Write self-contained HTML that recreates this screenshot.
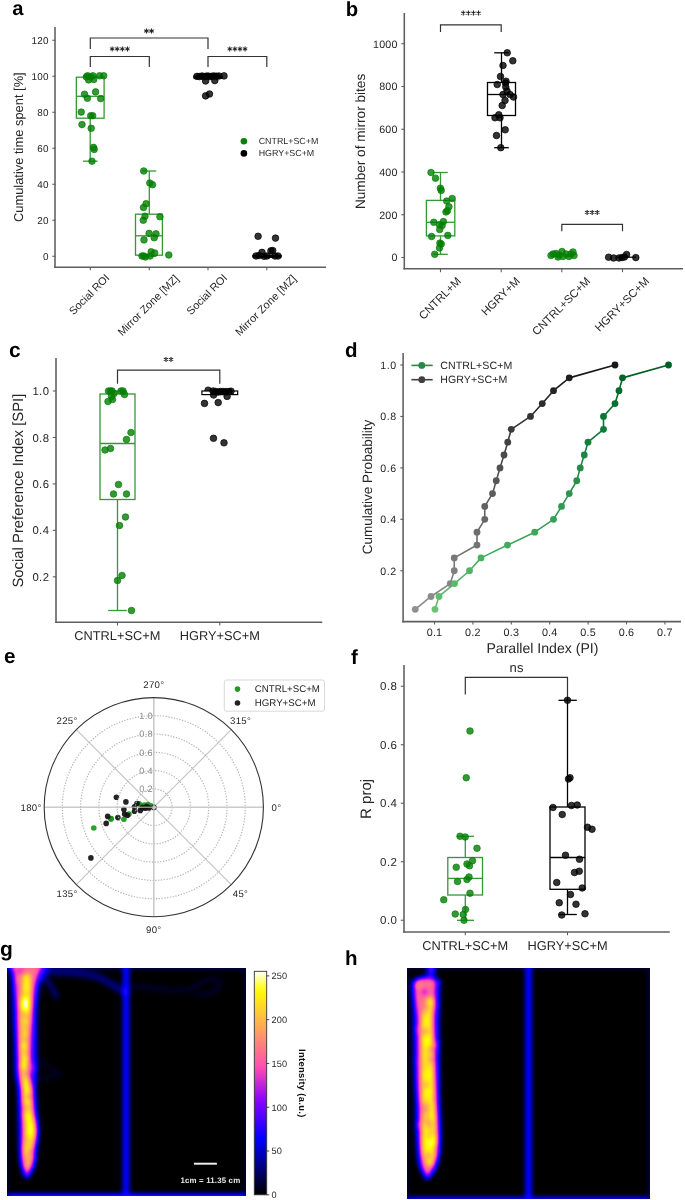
<!DOCTYPE html><html><head><meta charset="utf-8"><style>html,body{margin:0;padding:0;background:#fff;width:685px;height:1200px;overflow:hidden}svg{display:block;font-family:"Liberation Sans",sans-serif;will-change:transform;text-rendering:geometricPrecision}.g{fill:#008000;fill-opacity:.8;stroke:#0a7d0a;stroke-width:.7}.k{fill:#000;fill-opacity:.8;stroke:#000;stroke-width:.7}</style></head><body>
<svg width="685" height="1200" viewBox="0 0 685 1200">
<rect width="685" height="1200" fill="#fff"/>
<text x="12.20" y="14.70" font-size="20.2" text-anchor="start" fill="#000" font-weight="bold">a</text>
<text x="345.70" y="15.60" font-size="20.3" text-anchor="start" fill="#000" font-weight="bold">b</text>
<text x="9.10" y="357.20" font-size="21" text-anchor="start" fill="#000" font-weight="bold">c</text>
<text x="344.90" y="357.00" font-size="20.5" text-anchor="start" fill="#000" font-weight="bold">d</text>
<text x="4.00" y="662.80" font-size="20.7" text-anchor="start" fill="#000" font-weight="bold">e</text>
<text x="351.10" y="663.70" font-size="20.4" text-anchor="start" fill="#000" font-weight="bold">f</text>
<text x="0.00" y="956.10" font-size="21" text-anchor="start" fill="#000" font-weight="bold">g</text>
<text x="345.00" y="965.30" font-size="20.5" text-anchor="start" fill="#000" font-weight="bold">h</text>
<line x1="55.00" y1="27.00" x2="55.00" y2="268.07" stroke="#5e5e5e" stroke-width="1.55"/>
<line x1="54.23" y1="267.30" x2="326.00" y2="267.30" stroke="#5e5e5e" stroke-width="1.55"/>
<line x1="52.30" y1="256.25" x2="55.50" y2="256.25" stroke="#5e5e5e" stroke-width="1.1"/>
<text x="48.80" y="259.81" font-size="9.9" text-anchor="end" fill="#262626" letter-spacing="0.27">0</text>
<line x1="52.30" y1="220.25" x2="55.50" y2="220.25" stroke="#5e5e5e" stroke-width="1.1"/>
<text x="48.80" y="223.81" font-size="9.9" text-anchor="end" fill="#262626" letter-spacing="0.27">20</text>
<line x1="52.30" y1="184.25" x2="55.50" y2="184.25" stroke="#5e5e5e" stroke-width="1.1"/>
<text x="48.80" y="187.81" font-size="9.9" text-anchor="end" fill="#262626" letter-spacing="0.27">40</text>
<line x1="52.30" y1="148.25" x2="55.50" y2="148.25" stroke="#5e5e5e" stroke-width="1.1"/>
<text x="48.80" y="151.81" font-size="9.9" text-anchor="end" fill="#262626" letter-spacing="0.27">60</text>
<line x1="52.30" y1="112.25" x2="55.50" y2="112.25" stroke="#5e5e5e" stroke-width="1.1"/>
<text x="48.80" y="115.81" font-size="9.9" text-anchor="end" fill="#262626" letter-spacing="0.27">80</text>
<line x1="52.30" y1="76.25" x2="55.50" y2="76.25" stroke="#5e5e5e" stroke-width="1.1"/>
<text x="48.80" y="79.81" font-size="9.9" text-anchor="end" fill="#262626" letter-spacing="0.27">100</text>
<line x1="52.30" y1="40.25" x2="55.50" y2="40.25" stroke="#5e5e5e" stroke-width="1.1"/>
<text x="48.80" y="43.81" font-size="9.9" text-anchor="end" fill="#262626" letter-spacing="0.27">120</text>
<line x1="90.30" y1="267.00" x2="90.30" y2="270.20" stroke="#5e5e5e" stroke-width="1.1"/>
<line x1="149.30" y1="267.00" x2="149.30" y2="270.20" stroke="#5e5e5e" stroke-width="1.1"/>
<line x1="208.00" y1="267.00" x2="208.00" y2="270.20" stroke="#5e5e5e" stroke-width="1.1"/>
<line x1="266.80" y1="267.00" x2="266.80" y2="270.20" stroke="#5e5e5e" stroke-width="1.1"/>
<text x="23.00" y="147.20" font-size="12.9" text-anchor="middle" fill="#262626" transform="rotate(-90 23.00 147.20)">Cumulative time spent [%]</text>
<text x="0" y="0" font-size="10.9" text-anchor="middle" dominant-baseline="central" fill="#262626" transform="translate(89.70 294.90) rotate(-45)">Social ROI</text>
<text x="0" y="0" font-size="10.9" text-anchor="middle" dominant-baseline="central" fill="#262626" transform="translate(148.70 305.80) rotate(-45)">Mirror Zone [MZ]</text>
<text x="0" y="0" font-size="10.9" text-anchor="middle" dominant-baseline="central" fill="#262626" transform="translate(207.40 294.90) rotate(-45)">Social ROI</text>
<text x="0" y="0" font-size="10.9" text-anchor="middle" dominant-baseline="central" fill="#262626" transform="translate(266.20 305.80) rotate(-45)">Mirror Zone [MZ]</text>
<polyline points="90.30,49.00 90.30,38.00 208.00,38.00 208.00,49.00" stroke="#333" stroke-width="1.2" fill="none"/>
<path d="M146.45,28.50L146.45,33.50M144.28,29.75L148.62,32.25M148.62,29.75L144.28,32.25" stroke="#222" stroke-width="1.05" fill="none"/>
<path d="M151.55,28.50L151.55,33.50M149.38,29.75L153.72,32.25M153.72,29.75L149.38,32.25" stroke="#222" stroke-width="1.05" fill="none"/>
<polyline points="90.30,67.00 90.30,56.50 149.30,56.50 149.30,67.00" stroke="#333" stroke-width="1.2" fill="none"/>
<path d="M112.15,46.40L112.15,51.40M109.98,47.65L114.32,50.15M114.32,47.65L109.98,50.15" stroke="#222" stroke-width="1.05" fill="none"/>
<path d="M117.25,46.40L117.25,51.40M115.08,47.65L119.42,50.15M119.42,47.65L115.08,50.15" stroke="#222" stroke-width="1.05" fill="none"/>
<path d="M122.35,46.40L122.35,51.40M120.18,47.65L124.52,50.15M124.52,47.65L120.18,50.15" stroke="#222" stroke-width="1.05" fill="none"/>
<path d="M127.45,46.40L127.45,51.40M125.28,47.65L129.62,50.15M129.62,47.65L125.28,50.15" stroke="#222" stroke-width="1.05" fill="none"/>
<polyline points="208.00,67.00 208.00,56.50 266.80,56.50 266.80,67.00" stroke="#333" stroke-width="1.2" fill="none"/>
<path d="M229.75,46.40L229.75,51.40M227.58,47.65L231.92,50.15M231.92,47.65L227.58,50.15" stroke="#222" stroke-width="1.05" fill="none"/>
<path d="M234.85,46.40L234.85,51.40M232.68,47.65L237.02,50.15M237.02,47.65L232.68,50.15" stroke="#222" stroke-width="1.05" fill="none"/>
<path d="M239.95,46.40L239.95,51.40M237.78,47.65L242.12,50.15M242.12,47.65L237.78,50.15" stroke="#222" stroke-width="1.05" fill="none"/>
<path d="M245.05,46.40L245.05,51.40M242.88,47.65L247.22,50.15M247.22,47.65L242.88,50.15" stroke="#222" stroke-width="1.05" fill="none"/>
<line x1="90.20" y1="76.25" x2="90.20" y2="77.20" stroke="#339933" stroke-width="1.3"/>
<line x1="90.20" y1="118.20" x2="90.20" y2="161.20" stroke="#339933" stroke-width="1.3"/>
<line x1="83.00" y1="76.25" x2="97.60" y2="76.25" stroke="#339933" stroke-width="1.3"/>
<line x1="83.00" y1="161.20" x2="97.60" y2="161.20" stroke="#339933" stroke-width="1.3"/>
<rect x="76.35" y="77.20" width="27.75" height="41.00" stroke="#339933" stroke-width="1.3" fill="none"/>
<line x1="76.35" y1="96.30" x2="104.10" y2="96.30" stroke="#339933" stroke-width="1.3"/>
<line x1="149.30" y1="171.00" x2="149.30" y2="214.20" stroke="#339933" stroke-width="1.3"/>
<line x1="149.30" y1="255.20" x2="149.30" y2="256.25" stroke="#339933" stroke-width="1.3"/>
<line x1="142.30" y1="171.00" x2="156.30" y2="171.00" stroke="#339933" stroke-width="1.3"/>
<line x1="142.30" y1="256.25" x2="156.30" y2="256.25" stroke="#339933" stroke-width="1.3"/>
<rect x="135.50" y="214.20" width="26.90" height="41.00" stroke="#339933" stroke-width="1.3" fill="none"/>
<line x1="135.50" y1="235.80" x2="162.40" y2="235.80" stroke="#339933" stroke-width="1.3"/>
<circle cx="87.60" cy="75.80" r="3.3" class="g"/>
<circle cx="90.70" cy="76.90" r="3.3" class="g"/>
<circle cx="92.90" cy="75.80" r="3.3" class="g"/>
<circle cx="88.60" cy="79.90" r="3.3" class="g"/>
<circle cx="93.70" cy="79.40" r="3.3" class="g"/>
<circle cx="99.60" cy="75.80" r="3.3" class="g"/>
<circle cx="103.70" cy="75.80" r="3.3" class="g"/>
<circle cx="86.40" cy="76.90" r="3.3" class="g"/>
<circle cx="84.50" cy="94.20" r="3.3" class="g"/>
<circle cx="95.60" cy="91.90" r="3.3" class="g"/>
<circle cx="87.40" cy="98.30" r="3.3" class="g"/>
<circle cx="100.70" cy="98.60" r="3.3" class="g"/>
<circle cx="81.20" cy="112.10" r="3.3" class="g"/>
<circle cx="90.70" cy="115.70" r="3.3" class="g"/>
<circle cx="92.70" cy="115.70" r="3.3" class="g"/>
<circle cx="82.00" cy="124.60" r="3.3" class="g"/>
<circle cx="91.20" cy="128.30" r="3.3" class="g"/>
<circle cx="93.50" cy="147.40" r="3.3" class="g"/>
<circle cx="94.20" cy="149.40" r="3.3" class="g"/>
<circle cx="92.00" cy="161.20" r="3.3" class="g"/>
<circle cx="143.70" cy="171.00" r="3.3" class="g"/>
<circle cx="149.80" cy="183.00" r="3.3" class="g"/>
<circle cx="152.50" cy="184.70" r="3.3" class="g"/>
<circle cx="146.10" cy="203.70" r="3.3" class="g"/>
<circle cx="143.50" cy="207.50" r="3.3" class="g"/>
<circle cx="145.00" cy="216.20" r="3.3" class="g"/>
<circle cx="143.30" cy="220.30" r="3.3" class="g"/>
<circle cx="159.90" cy="216.70" r="3.3" class="g"/>
<circle cx="149.10" cy="233.40" r="3.3" class="g"/>
<circle cx="156.00" cy="233.80" r="3.3" class="g"/>
<circle cx="154.20" cy="237.70" r="3.3" class="g"/>
<circle cx="144.00" cy="239.90" r="3.3" class="g"/>
<circle cx="151.20" cy="251.80" r="3.3" class="g"/>
<circle cx="154.70" cy="253.00" r="3.3" class="g"/>
<circle cx="142.00" cy="256.00" r="3.3" class="g"/>
<circle cx="143.70" cy="256.00" r="3.3" class="g"/>
<circle cx="145.50" cy="257.00" r="3.3" class="g"/>
<circle cx="150.10" cy="256.00" r="3.3" class="g"/>
<circle cx="168.80" cy="255.00" r="3.3" class="g"/>
<line x1="208.00" y1="76.20" x2="208.00" y2="76.20" stroke="#000" stroke-width="1.3"/>
<line x1="208.00" y1="78.00" x2="208.00" y2="78.00" stroke="#000" stroke-width="1.3"/>
<line x1="200.00" y1="76.20" x2="216.00" y2="76.20" stroke="#000" stroke-width="1.3"/>
<line x1="200.00" y1="78.00" x2="216.00" y2="78.00" stroke="#000" stroke-width="1.3"/>
<rect x="194.00" y="76.20" width="28.00" height="1.80" stroke="#000" stroke-width="1.3" fill="none"/>
<line x1="194.00" y1="77.50" x2="222.00" y2="77.50" stroke="#000" stroke-width="1.3"/>
<circle cx="197.00" cy="76.40" r="3.3" class="k"/>
<circle cx="199.50" cy="76.60" r="3.3" class="k"/>
<circle cx="202.00" cy="76.00" r="3.3" class="k"/>
<circle cx="204.00" cy="76.60" r="3.3" class="k"/>
<circle cx="206.00" cy="76.20" r="3.3" class="k"/>
<circle cx="208.00" cy="76.00" r="3.3" class="k"/>
<circle cx="210.00" cy="76.60" r="3.3" class="k"/>
<circle cx="212.00" cy="76.20" r="3.3" class="k"/>
<circle cx="214.00" cy="76.00" r="3.3" class="k"/>
<circle cx="216.50" cy="76.20" r="3.3" class="k"/>
<circle cx="219.00" cy="76.00" r="3.3" class="k"/>
<circle cx="224.00" cy="75.90" r="3.3" class="k"/>
<circle cx="205.60" cy="81.00" r="3.3" class="k"/>
<circle cx="214.80" cy="80.60" r="3.3" class="k"/>
<circle cx="205.60" cy="95.90" r="3.3" class="k"/>
<circle cx="209.50" cy="94.00" r="3.3" class="k"/>
<line x1="266.80" y1="255.50" x2="266.80" y2="255.50" stroke="#000" stroke-width="1.3"/>
<line x1="266.80" y1="257.00" x2="266.80" y2="257.00" stroke="#000" stroke-width="1.3"/>
<line x1="260.00" y1="255.50" x2="274.00" y2="255.50" stroke="#000" stroke-width="1.3"/>
<line x1="260.00" y1="257.00" x2="274.00" y2="257.00" stroke="#000" stroke-width="1.3"/>
<rect x="253.00" y="255.50" width="28.00" height="1.50" stroke="#000" stroke-width="1.3" fill="none"/>
<line x1="253.00" y1="256.20" x2="281.00" y2="256.20" stroke="#000" stroke-width="1.3"/>
<circle cx="256.00" cy="256.00" r="3.3" class="k"/>
<circle cx="259.00" cy="255.50" r="3.3" class="k"/>
<circle cx="262.00" cy="252.40" r="3.3" class="k"/>
<circle cx="264.00" cy="256.30" r="3.3" class="k"/>
<circle cx="267.00" cy="256.00" r="3.3" class="k"/>
<circle cx="270.90" cy="250.90" r="3.3" class="k"/>
<circle cx="272.70" cy="250.50" r="3.3" class="k"/>
<circle cx="275.00" cy="256.00" r="3.3" class="k"/>
<circle cx="278.00" cy="256.00" r="3.3" class="k"/>
<circle cx="258.10" cy="236.30" r="3.3" class="k"/>
<circle cx="275.50" cy="238.10" r="3.3" class="k"/>
<circle cx="243.9" cy="141.2" r="3.3" fill="#0a800a"/>
<circle cx="243.9" cy="153.4" r="3.3" fill="#000"/>
<text x="258.70" y="143.80" font-size="8.9" text-anchor="start" fill="#262626">CNTRL+SC+M</text>
<text x="258.70" y="155.60" font-size="8.9" text-anchor="start" fill="#262626">HGRY+SC+M</text>
<line x1="404.30" y1="13.00" x2="404.30" y2="269.57" stroke="#5e5e5e" stroke-width="1.55"/>
<line x1="403.53" y1="268.80" x2="683.00" y2="268.80" stroke="#5e5e5e" stroke-width="1.55"/>
<line x1="401.30" y1="257.50" x2="404.50" y2="257.50" stroke="#5e5e5e" stroke-width="1.1"/>
<text x="397.80" y="261.35" font-size="10.7" text-anchor="end" fill="#262626" letter-spacing="0.27">0</text>
<line x1="401.30" y1="214.75" x2="404.50" y2="214.75" stroke="#5e5e5e" stroke-width="1.1"/>
<text x="397.80" y="218.60" font-size="10.7" text-anchor="end" fill="#262626" letter-spacing="0.27">200</text>
<line x1="401.30" y1="172.00" x2="404.50" y2="172.00" stroke="#5e5e5e" stroke-width="1.1"/>
<text x="397.80" y="175.85" font-size="10.7" text-anchor="end" fill="#262626" letter-spacing="0.27">400</text>
<line x1="401.30" y1="129.25" x2="404.50" y2="129.25" stroke="#5e5e5e" stroke-width="1.1"/>
<text x="397.80" y="133.10" font-size="10.7" text-anchor="end" fill="#262626" letter-spacing="0.27">600</text>
<line x1="401.30" y1="86.50" x2="404.50" y2="86.50" stroke="#5e5e5e" stroke-width="1.1"/>
<text x="397.80" y="90.35" font-size="10.7" text-anchor="end" fill="#262626" letter-spacing="0.27">800</text>
<line x1="401.30" y1="43.75" x2="404.50" y2="43.75" stroke="#5e5e5e" stroke-width="1.1"/>
<text x="397.80" y="47.60" font-size="10.7" text-anchor="end" fill="#262626" letter-spacing="0.27">1000</text>
<line x1="440.50" y1="269.00" x2="440.50" y2="272.20" stroke="#5e5e5e" stroke-width="1.1"/>
<line x1="501.20" y1="269.00" x2="501.20" y2="272.20" stroke="#5e5e5e" stroke-width="1.1"/>
<line x1="561.80" y1="269.00" x2="561.80" y2="272.20" stroke="#5e5e5e" stroke-width="1.1"/>
<line x1="622.50" y1="269.00" x2="622.50" y2="272.20" stroke="#5e5e5e" stroke-width="1.1"/>
<text x="365.30" y="141.40" font-size="13.6" text-anchor="middle" fill="#262626" transform="rotate(-90 365.30 141.40)">Number of mirror bites</text>
<text x="0" y="0" font-size="11.4" text-anchor="middle" dominant-baseline="central" fill="#262626" transform="translate(440.50 298.90) rotate(-45)">CNTRL+M</text>
<text x="0" y="0" font-size="11.4" text-anchor="middle" dominant-baseline="central" fill="#262626" transform="translate(501.20 296.90) rotate(-45)">HGRY+M</text>
<text x="0" y="0" font-size="11.4" text-anchor="middle" dominant-baseline="central" fill="#262626" transform="translate(561.80 306.85) rotate(-45)">CNTRL+SC+M</text>
<text x="0" y="0" font-size="11.4" text-anchor="middle" dominant-baseline="central" fill="#262626" transform="translate(622.50 304.90) rotate(-45)">HGRY+SC+M</text>
<polyline points="440.50,32.00 440.50,24.90 501.20,24.90 501.20,32.00" stroke="#333" stroke-width="1.2" fill="none"/>
<path d="M463.25,10.60L463.25,15.60M461.08,11.85L465.42,14.35M465.42,11.85L461.08,14.35" stroke="#222" stroke-width="1.05" fill="none"/>
<path d="M468.35,10.60L468.35,15.60M466.18,11.85L470.52,14.35M470.52,11.85L466.18,14.35" stroke="#222" stroke-width="1.05" fill="none"/>
<path d="M473.45,10.60L473.45,15.60M471.28,11.85L475.62,14.35M475.62,11.85L471.28,14.35" stroke="#222" stroke-width="1.05" fill="none"/>
<path d="M478.55,10.60L478.55,15.60M476.38,11.85L480.72,14.35M480.72,11.85L476.38,14.35" stroke="#222" stroke-width="1.05" fill="none"/>
<polyline points="561.80,231.30 561.80,224.30 622.50,224.30 622.50,231.30" stroke="#333" stroke-width="1.2" fill="none"/>
<path d="M587.10,209.90L587.10,214.90M584.93,211.15L589.27,213.65M589.27,211.15L584.93,213.65" stroke="#222" stroke-width="1.05" fill="none"/>
<path d="M592.20,209.90L592.20,214.90M590.03,211.15L594.37,213.65M594.37,211.15L590.03,213.65" stroke="#222" stroke-width="1.05" fill="none"/>
<path d="M597.30,209.90L597.30,214.90M595.13,211.15L599.47,213.65M599.47,211.15L595.13,213.65" stroke="#222" stroke-width="1.05" fill="none"/>
<line x1="440.50" y1="172.50" x2="440.50" y2="200.40" stroke="#339933" stroke-width="1.3"/>
<line x1="440.50" y1="235.90" x2="440.50" y2="254.30" stroke="#339933" stroke-width="1.3"/>
<line x1="433.20" y1="172.50" x2="447.80" y2="172.50" stroke="#339933" stroke-width="1.3"/>
<line x1="433.20" y1="254.30" x2="447.80" y2="254.30" stroke="#339933" stroke-width="1.3"/>
<rect x="426.40" y="200.40" width="28.40" height="35.50" stroke="#339933" stroke-width="1.3" fill="none"/>
<line x1="426.40" y1="222.30" x2="454.80" y2="222.30" stroke="#339933" stroke-width="1.3"/>
<circle cx="431.00" cy="172.50" r="3.3" class="g"/>
<circle cx="435.50" cy="178.20" r="3.3" class="g"/>
<circle cx="440.40" cy="188.20" r="3.3" class="g"/>
<circle cx="441.20" cy="190.40" r="3.3" class="g"/>
<circle cx="446.70" cy="201.10" r="3.3" class="g"/>
<circle cx="452.20" cy="198.50" r="3.3" class="g"/>
<circle cx="448.90" cy="206.80" r="3.3" class="g"/>
<circle cx="446.00" cy="212.00" r="3.3" class="g"/>
<circle cx="447.40" cy="210.70" r="3.3" class="g"/>
<circle cx="433.80" cy="222.30" r="3.3" class="g"/>
<circle cx="443.40" cy="221.60" r="3.3" class="g"/>
<circle cx="439.50" cy="224.70" r="3.3" class="g"/>
<circle cx="442.10" cy="225.60" r="3.3" class="g"/>
<circle cx="439.70" cy="229.50" r="3.3" class="g"/>
<circle cx="431.60" cy="236.50" r="3.3" class="g"/>
<circle cx="447.80" cy="235.40" r="3.3" class="g"/>
<circle cx="439.90" cy="243.10" r="3.3" class="g"/>
<circle cx="441.20" cy="244.00" r="3.3" class="g"/>
<circle cx="439.50" cy="247.90" r="3.3" class="g"/>
<circle cx="434.70" cy="254.30" r="3.3" class="g"/>
<line x1="501.50" y1="52.80" x2="501.50" y2="82.50" stroke="#000" stroke-width="1.3"/>
<line x1="501.50" y1="115.50" x2="501.50" y2="147.70" stroke="#000" stroke-width="1.3"/>
<line x1="494.20" y1="52.80" x2="508.80" y2="52.80" stroke="#000" stroke-width="1.3"/>
<line x1="494.20" y1="147.70" x2="508.80" y2="147.70" stroke="#000" stroke-width="1.3"/>
<rect x="487.50" y="82.50" width="28.00" height="33.00" stroke="#000" stroke-width="1.3" fill="none"/>
<line x1="487.50" y1="94.50" x2="515.50" y2="94.50" stroke="#000" stroke-width="1.3"/>
<circle cx="507.20" cy="52.80" r="3.3" class="k"/>
<circle cx="512.80" cy="60.80" r="3.3" class="k"/>
<circle cx="503.00" cy="65.50" r="3.3" class="k"/>
<circle cx="500.50" cy="76.50" r="3.3" class="k"/>
<circle cx="497.20" cy="84.50" r="3.3" class="k"/>
<circle cx="506.00" cy="81.20" r="3.3" class="k"/>
<circle cx="505.50" cy="83.00" r="3.3" class="k"/>
<circle cx="505.80" cy="87.00" r="3.3" class="k"/>
<circle cx="507.00" cy="91.00" r="3.3" class="k"/>
<circle cx="503.00" cy="94.50" r="3.3" class="k"/>
<circle cx="510.00" cy="94.50" r="3.3" class="k"/>
<circle cx="513.50" cy="97.00" r="3.3" class="k"/>
<circle cx="505.00" cy="100.50" r="3.3" class="k"/>
<circle cx="502.20" cy="105.50" r="3.3" class="k"/>
<circle cx="498.80" cy="114.80" r="3.3" class="k"/>
<circle cx="495.00" cy="117.80" r="3.3" class="k"/>
<circle cx="500.00" cy="117.80" r="3.3" class="k"/>
<circle cx="505.20" cy="129.80" r="3.3" class="k"/>
<circle cx="496.50" cy="135.50" r="3.3" class="k"/>
<circle cx="500.80" cy="147.70" r="3.3" class="k"/>
<circle cx="551.00" cy="255.50" r="3.3" class="g"/>
<circle cx="553.00" cy="254.00" r="3.3" class="g"/>
<circle cx="556.00" cy="253.50" r="3.3" class="g"/>
<circle cx="559.00" cy="255.00" r="3.3" class="g"/>
<circle cx="562.00" cy="251.50" r="3.3" class="g"/>
<circle cx="563.00" cy="256.50" r="3.3" class="g"/>
<circle cx="566.00" cy="254.00" r="3.3" class="g"/>
<circle cx="569.00" cy="256.50" r="3.3" class="g"/>
<circle cx="571.00" cy="254.00" r="3.3" class="g"/>
<circle cx="573.00" cy="252.00" r="3.3" class="g"/>
<circle cx="574.00" cy="255.50" r="3.3" class="g"/>
<circle cx="558.00" cy="257.00" r="3.3" class="g"/>
<line x1="617.00" y1="257.20" x2="636.00" y2="257.20" stroke="#000" stroke-width="1.2"/>
<circle cx="608.60" cy="257.20" r="3.3" class="k"/>
<circle cx="613.60" cy="258.00" r="3.3" class="k"/>
<circle cx="619.00" cy="258.00" r="3.3" class="k"/>
<circle cx="622.00" cy="257.50" r="3.3" class="k"/>
<circle cx="624.50" cy="257.00" r="3.3" class="k"/>
<circle cx="626.60" cy="254.50" r="3.3" class="k"/>
<circle cx="635.80" cy="257.60" r="3.3" class="k"/>
<line x1="56.00" y1="358.00" x2="56.00" y2="623.07" stroke="#5e5e5e" stroke-width="1.55"/>
<line x1="55.23" y1="622.30" x2="322.30" y2="622.30" stroke="#5e5e5e" stroke-width="1.55"/>
<line x1="52.80" y1="576.80" x2="56.00" y2="576.80" stroke="#5e5e5e" stroke-width="1.1"/>
<text x="49.30" y="580.87" font-size="11.3" text-anchor="end" fill="#262626" letter-spacing="0.37">0.2</text>
<line x1="52.80" y1="530.35" x2="56.00" y2="530.35" stroke="#5e5e5e" stroke-width="1.1"/>
<text x="49.30" y="534.42" font-size="11.3" text-anchor="end" fill="#262626" letter-spacing="0.37">0.4</text>
<line x1="52.80" y1="483.90" x2="56.00" y2="483.90" stroke="#5e5e5e" stroke-width="1.1"/>
<text x="49.30" y="487.97" font-size="11.3" text-anchor="end" fill="#262626" letter-spacing="0.37">0.6</text>
<line x1="52.80" y1="437.45" x2="56.00" y2="437.45" stroke="#5e5e5e" stroke-width="1.1"/>
<text x="49.30" y="441.52" font-size="11.3" text-anchor="end" fill="#262626" letter-spacing="0.37">0.8</text>
<line x1="52.80" y1="391.00" x2="56.00" y2="391.00" stroke="#5e5e5e" stroke-width="1.1"/>
<text x="49.30" y="395.07" font-size="11.3" text-anchor="end" fill="#262626" letter-spacing="0.37">1.0</text>
<line x1="117.50" y1="622.30" x2="117.50" y2="625.50" stroke="#5e5e5e" stroke-width="1.1"/>
<line x1="219.80" y1="622.30" x2="219.80" y2="625.50" stroke="#5e5e5e" stroke-width="1.1"/>
<text x="23.00" y="490.60" font-size="14.85" text-anchor="middle" fill="#262626" transform="rotate(-90 23.00 490.60)">Social Preference Index [SPI]</text>
<text x="117.30" y="639.50" font-size="12.8" text-anchor="middle" fill="#262626">CNTRL+SC+M</text>
<text x="219.80" y="639.50" font-size="12.8" text-anchor="middle" fill="#262626">HGRY+SC+M</text>
<polyline points="117.50,383.80 117.50,370.20 219.80,370.20 219.80,383.80" stroke="#333" stroke-width="1.2" fill="none"/>
<path d="M165.95,356.90L165.95,361.90M163.78,358.15L168.12,360.65M168.12,358.15L163.78,360.65" stroke="#222" stroke-width="1.05" fill="none"/>
<path d="M171.05,356.90L171.05,361.90M168.88,358.15L173.22,360.65M173.22,358.15L168.88,360.65" stroke="#222" stroke-width="1.05" fill="none"/>
<line x1="117.50" y1="391.00" x2="117.50" y2="394.00" stroke="#339933" stroke-width="1.3"/>
<line x1="117.50" y1="499.50" x2="117.50" y2="610.50" stroke="#339933" stroke-width="1.3"/>
<line x1="108.20" y1="391.00" x2="126.80" y2="391.00" stroke="#339933" stroke-width="1.3"/>
<line x1="108.20" y1="610.50" x2="126.80" y2="610.50" stroke="#339933" stroke-width="1.3"/>
<rect x="100.00" y="394.00" width="35.00" height="105.50" stroke="#339933" stroke-width="1.3" fill="none"/>
<line x1="100.00" y1="443.50" x2="135.00" y2="443.50" stroke="#339933" stroke-width="1.3"/>
<circle cx="108.50" cy="391.00" r="3.3" class="g"/>
<circle cx="110.50" cy="391.00" r="3.3" class="g"/>
<circle cx="112.00" cy="391.00" r="3.3" class="g"/>
<circle cx="114.00" cy="393.50" r="3.3" class="g"/>
<circle cx="121.00" cy="391.00" r="3.3" class="g"/>
<circle cx="123.00" cy="391.00" r="3.3" class="g"/>
<circle cx="124.50" cy="394.50" r="3.3" class="g"/>
<circle cx="111.50" cy="396.50" r="3.3" class="g"/>
<circle cx="108.00" cy="401.50" r="3.3" class="g"/>
<circle cx="112.50" cy="399.50" r="3.3" class="g"/>
<circle cx="131.00" cy="432.50" r="3.3" class="g"/>
<circle cx="126.50" cy="439.50" r="3.3" class="g"/>
<circle cx="105.00" cy="450.00" r="3.3" class="g"/>
<circle cx="110.50" cy="448.50" r="3.3" class="g"/>
<circle cx="118.50" cy="484.50" r="3.3" class="g"/>
<circle cx="113.50" cy="494.00" r="3.3" class="g"/>
<circle cx="126.50" cy="494.00" r="3.3" class="g"/>
<circle cx="125.50" cy="517.00" r="3.3" class="g"/>
<circle cx="119.50" cy="525.50" r="3.3" class="g"/>
<circle cx="122.00" cy="575.50" r="3.3" class="g"/>
<circle cx="117.50" cy="580.50" r="3.3" class="g"/>
<circle cx="131.50" cy="610.50" r="3.3" class="g"/>
<circle cx="208.10" cy="390.20" r="3.3" class="k"/>
<rect x="201.90" y="391.00" width="35.80" height="3.60" stroke="#000" stroke-width="1.2" fill="#fff"/>
<circle cx="213.00" cy="391.00" r="3.3" class="k"/>
<circle cx="215.50" cy="391.50" r="3.3" class="k"/>
<circle cx="218.00" cy="392.00" r="3.3" class="k"/>
<circle cx="220.50" cy="391.50" r="3.3" class="k"/>
<circle cx="223.00" cy="391.50" r="3.3" class="k"/>
<circle cx="226.00" cy="391.50" r="3.3" class="k"/>
<circle cx="229.00" cy="391.50" r="3.3" class="k"/>
<circle cx="231.00" cy="391.20" r="3.3" class="k"/>
<circle cx="213.60" cy="395.00" r="3.3" class="k"/>
<circle cx="204.50" cy="403.40" r="3.3" class="k"/>
<circle cx="218.20" cy="402.60" r="3.3" class="k"/>
<circle cx="213.50" cy="438.30" r="3.3" class="k"/>
<circle cx="224.00" cy="442.80" r="3.3" class="k"/>
<circle cx="227.10" cy="396.40" r="3.3" class="k"/>
<line x1="403.10" y1="353.00" x2="403.10" y2="622.38" stroke="#5e5e5e" stroke-width="1.55"/>
<line x1="402.33" y1="621.60" x2="681.00" y2="621.60" stroke="#5e5e5e" stroke-width="1.55"/>
<line x1="400.30" y1="570.76" x2="403.50" y2="570.76" stroke="#5e5e5e" stroke-width="1.1"/>
<text x="396.80" y="574.58" font-size="10.6" text-anchor="end" fill="#262626" letter-spacing="0.6">0.2</text>
<line x1="400.30" y1="519.32" x2="403.50" y2="519.32" stroke="#5e5e5e" stroke-width="1.1"/>
<text x="396.80" y="523.14" font-size="10.6" text-anchor="end" fill="#262626" letter-spacing="0.6">0.4</text>
<line x1="400.30" y1="467.88" x2="403.50" y2="467.88" stroke="#5e5e5e" stroke-width="1.1"/>
<text x="396.80" y="471.70" font-size="10.6" text-anchor="end" fill="#262626" letter-spacing="0.6">0.6</text>
<line x1="400.30" y1="416.44" x2="403.50" y2="416.44" stroke="#5e5e5e" stroke-width="1.1"/>
<text x="396.80" y="420.26" font-size="10.6" text-anchor="end" fill="#262626" letter-spacing="0.6">0.8</text>
<line x1="400.30" y1="365.00" x2="403.50" y2="365.00" stroke="#5e5e5e" stroke-width="1.1"/>
<text x="396.80" y="368.82" font-size="10.6" text-anchor="end" fill="#262626" letter-spacing="0.6">1.0</text>
<line x1="434.50" y1="621.30" x2="434.50" y2="624.50" stroke="#5e5e5e" stroke-width="1.1"/>
<text x="434.50" y="636.20" font-size="10.8" text-anchor="middle" fill="#262626" letter-spacing="0.2">0.1</text>
<line x1="472.90" y1="621.30" x2="472.90" y2="624.50" stroke="#5e5e5e" stroke-width="1.1"/>
<text x="472.90" y="636.20" font-size="10.8" text-anchor="middle" fill="#262626" letter-spacing="0.2">0.2</text>
<line x1="511.30" y1="621.30" x2="511.30" y2="624.50" stroke="#5e5e5e" stroke-width="1.1"/>
<text x="511.30" y="636.20" font-size="10.8" text-anchor="middle" fill="#262626" letter-spacing="0.2">0.3</text>
<line x1="549.70" y1="621.30" x2="549.70" y2="624.50" stroke="#5e5e5e" stroke-width="1.1"/>
<text x="549.70" y="636.20" font-size="10.8" text-anchor="middle" fill="#262626" letter-spacing="0.2">0.4</text>
<line x1="588.10" y1="621.30" x2="588.10" y2="624.50" stroke="#5e5e5e" stroke-width="1.1"/>
<text x="588.10" y="636.20" font-size="10.8" text-anchor="middle" fill="#262626" letter-spacing="0.2">0.5</text>
<line x1="626.50" y1="621.30" x2="626.50" y2="624.50" stroke="#5e5e5e" stroke-width="1.1"/>
<text x="626.50" y="636.20" font-size="10.8" text-anchor="middle" fill="#262626" letter-spacing="0.2">0.6</text>
<line x1="664.90" y1="621.30" x2="664.90" y2="624.50" stroke="#5e5e5e" stroke-width="1.1"/>
<text x="664.90" y="636.20" font-size="10.8" text-anchor="middle" fill="#262626" letter-spacing="0.2">0.7</text>
<text x="542.40" y="653.20" font-size="14.1" text-anchor="middle" fill="#262626">Parallel Index (PI)</text>
<text x="371.80" y="487.00" font-size="13.5" text-anchor="middle" fill="#262626" transform="rotate(-90 371.80 487.00)">Cumulative Probability</text>
<line x1="415.25" y1="609.34" x2="431.00" y2="596.48" stroke="#8b8b8b" stroke-width="1.6" stroke-linecap="round"/>
<line x1="431.00" y1="596.48" x2="450.25" y2="583.62" stroke="#858585" stroke-width="1.6" stroke-linecap="round"/>
<line x1="450.25" y1="583.62" x2="454.25" y2="570.76" stroke="#7f7f7f" stroke-width="1.6" stroke-linecap="round"/>
<line x1="454.25" y1="570.76" x2="454.25" y2="557.90" stroke="#797979" stroke-width="1.6" stroke-linecap="round"/>
<line x1="454.25" y1="557.90" x2="477.00" y2="545.04" stroke="#737373" stroke-width="1.6" stroke-linecap="round"/>
<line x1="477.00" y1="545.04" x2="477.00" y2="532.18" stroke="#6d6d6d" stroke-width="1.6" stroke-linecap="round"/>
<line x1="477.00" y1="532.18" x2="484.75" y2="519.32" stroke="#686868" stroke-width="1.6" stroke-linecap="round"/>
<line x1="484.75" y1="519.32" x2="484.75" y2="506.46" stroke="#626262" stroke-width="1.6" stroke-linecap="round"/>
<line x1="484.75" y1="506.46" x2="492.50" y2="493.60" stroke="#5d5d5d" stroke-width="1.6" stroke-linecap="round"/>
<line x1="492.50" y1="493.60" x2="496.25" y2="480.74" stroke="#575757" stroke-width="1.6" stroke-linecap="round"/>
<line x1="496.25" y1="480.74" x2="500.00" y2="467.88" stroke="#515151" stroke-width="1.6" stroke-linecap="round"/>
<line x1="500.00" y1="467.88" x2="504.00" y2="455.02" stroke="#4a4a4a" stroke-width="1.6" stroke-linecap="round"/>
<line x1="504.00" y1="455.02" x2="507.75" y2="442.16" stroke="#424242" stroke-width="1.6" stroke-linecap="round"/>
<line x1="507.75" y1="442.16" x2="511.25" y2="429.30" stroke="#3b3b3b" stroke-width="1.6" stroke-linecap="round"/>
<line x1="511.25" y1="429.30" x2="530.50" y2="416.44" stroke="#333333" stroke-width="1.6" stroke-linecap="round"/>
<line x1="530.50" y1="416.44" x2="542.25" y2="403.58" stroke="#2c2c2c" stroke-width="1.6" stroke-linecap="round"/>
<line x1="542.25" y1="403.58" x2="553.50" y2="390.72" stroke="#242424" stroke-width="1.6" stroke-linecap="round"/>
<line x1="553.50" y1="390.72" x2="569.25" y2="377.86" stroke="#1e1e1e" stroke-width="1.6" stroke-linecap="round"/>
<line x1="569.25" y1="377.86" x2="615.00" y2="365.00" stroke="#181818" stroke-width="1.6" stroke-linecap="round"/>
<circle cx="415.25" cy="609.34" r="3.4" fill="#909090"/>
<circle cx="431.00" cy="596.48" r="3.4" fill="#8b8b8b"/>
<circle cx="450.25" cy="583.62" r="3.4" fill="#858585"/>
<circle cx="454.25" cy="570.76" r="3.4" fill="#7f7f7f"/>
<circle cx="454.25" cy="557.90" r="3.4" fill="#797979"/>
<circle cx="477.00" cy="545.04" r="3.4" fill="#737373"/>
<circle cx="477.00" cy="532.18" r="3.4" fill="#6d6d6d"/>
<circle cx="484.75" cy="519.32" r="3.4" fill="#686868"/>
<circle cx="484.75" cy="506.46" r="3.4" fill="#626262"/>
<circle cx="492.50" cy="493.60" r="3.4" fill="#5d5d5d"/>
<circle cx="496.25" cy="480.74" r="3.4" fill="#575757"/>
<circle cx="500.00" cy="467.88" r="3.4" fill="#515151"/>
<circle cx="504.00" cy="455.02" r="3.4" fill="#4a4a4a"/>
<circle cx="507.75" cy="442.16" r="3.4" fill="#424242"/>
<circle cx="511.25" cy="429.30" r="3.4" fill="#3b3b3b"/>
<circle cx="530.50" cy="416.44" r="3.4" fill="#333333"/>
<circle cx="542.25" cy="403.58" r="3.4" fill="#2c2c2c"/>
<circle cx="553.50" cy="390.72" r="3.4" fill="#242424"/>
<circle cx="569.25" cy="377.86" r="3.4" fill="#1e1e1e"/>
<circle cx="615.00" cy="365.00" r="3.4" fill="#181818"/>
<line x1="435.00" y1="609.34" x2="439.00" y2="596.48" stroke="#63bc6e" stroke-width="1.6" stroke-linecap="round"/>
<line x1="439.00" y1="596.48" x2="454.50" y2="583.62" stroke="#5bb86a" stroke-width="1.6" stroke-linecap="round"/>
<line x1="454.50" y1="583.62" x2="469.50" y2="570.76" stroke="#52b365" stroke-width="1.6" stroke-linecap="round"/>
<line x1="469.50" y1="570.76" x2="481.00" y2="557.90" stroke="#49af61" stroke-width="1.6" stroke-linecap="round"/>
<line x1="481.00" y1="557.90" x2="507.50" y2="545.04" stroke="#41ab5d" stroke-width="1.6" stroke-linecap="round"/>
<line x1="507.50" y1="545.04" x2="534.75" y2="532.18" stroke="#3ca659" stroke-width="1.6" stroke-linecap="round"/>
<line x1="534.75" y1="532.18" x2="553.50" y2="519.32" stroke="#37a055" stroke-width="1.6" stroke-linecap="round"/>
<line x1="553.50" y1="519.32" x2="561.50" y2="506.46" stroke="#329b51" stroke-width="1.6" stroke-linecap="round"/>
<line x1="561.50" y1="506.46" x2="569.25" y2="493.60" stroke="#2d954d" stroke-width="1.6" stroke-linecap="round"/>
<line x1="569.25" y1="493.60" x2="576.75" y2="480.74" stroke="#289049" stroke-width="1.6" stroke-linecap="round"/>
<line x1="576.75" y1="480.74" x2="580.25" y2="467.88" stroke="#238b45" stroke-width="1.6" stroke-linecap="round"/>
<line x1="580.25" y1="467.88" x2="584.25" y2="455.02" stroke="#1d8640" stroke-width="1.6" stroke-linecap="round"/>
<line x1="584.25" y1="455.02" x2="588.00" y2="442.16" stroke="#17813c" stroke-width="1.6" stroke-linecap="round"/>
<line x1="588.00" y1="442.16" x2="603.50" y2="429.30" stroke="#117b38" stroke-width="1.6" stroke-linecap="round"/>
<line x1="603.50" y1="429.30" x2="603.50" y2="416.44" stroke="#0b7634" stroke-width="1.6" stroke-linecap="round"/>
<line x1="603.50" y1="416.44" x2="615.00" y2="403.58" stroke="#057130" stroke-width="1.6" stroke-linecap="round"/>
<line x1="615.00" y1="403.58" x2="619.00" y2="390.72" stroke="#006c2c" stroke-width="1.6" stroke-linecap="round"/>
<line x1="619.00" y1="390.72" x2="622.50" y2="377.86" stroke="#006529" stroke-width="1.6" stroke-linecap="round"/>
<line x1="622.50" y1="377.86" x2="668.50" y2="365.00" stroke="#005e26" stroke-width="1.6" stroke-linecap="round"/>
<circle cx="435.00" cy="609.34" r="3.4" fill="#6cc072"/>
<circle cx="439.00" cy="596.48" r="3.4" fill="#63bc6e"/>
<circle cx="454.50" cy="583.62" r="3.4" fill="#5bb86a"/>
<circle cx="469.50" cy="570.76" r="3.4" fill="#52b365"/>
<circle cx="481.00" cy="557.90" r="3.4" fill="#49af61"/>
<circle cx="507.50" cy="545.04" r="3.4" fill="#41ab5d"/>
<circle cx="534.75" cy="532.18" r="3.4" fill="#3ca659"/>
<circle cx="553.50" cy="519.32" r="3.4" fill="#37a055"/>
<circle cx="561.50" cy="506.46" r="3.4" fill="#329b51"/>
<circle cx="569.25" cy="493.60" r="3.4" fill="#2d954d"/>
<circle cx="576.75" cy="480.74" r="3.4" fill="#289049"/>
<circle cx="580.25" cy="467.88" r="3.4" fill="#238b45"/>
<circle cx="584.25" cy="455.02" r="3.4" fill="#1d8640"/>
<circle cx="588.00" cy="442.16" r="3.4" fill="#17813c"/>
<circle cx="603.50" cy="429.30" r="3.4" fill="#117b38"/>
<circle cx="603.50" cy="416.44" r="3.4" fill="#0b7634"/>
<circle cx="615.00" cy="403.58" r="3.4" fill="#057130"/>
<circle cx="619.00" cy="390.72" r="3.4" fill="#006c2c"/>
<circle cx="622.50" cy="377.86" r="3.4" fill="#006529"/>
<circle cx="668.50" cy="365.00" r="3.4" fill="#005e26"/>
<line x1="411.40" y1="365.40" x2="432.70" y2="365.40" stroke="#238b45" stroke-width="1.6"/>
<circle cx="421.8" cy="365.4" r="3.4" fill="#238b45"/>
<line x1="411.40" y1="379.70" x2="432.70" y2="379.70" stroke="#404040" stroke-width="1.6"/>
<circle cx="421.8" cy="379.7" r="3.4" fill="#404040"/>
<text x="440.20" y="368.90" font-size="10.6" text-anchor="start" fill="#262626" letter-spacing="0.1">CNTRL+SC+M</text>
<text x="440.20" y="382.80" font-size="10.6" text-anchor="start" fill="#262626" letter-spacing="0.1">HGRY+SC+M</text>
<line x1="153.80" y1="807.20" x2="263.40" y2="807.20" stroke="#c4c4c4" stroke-width="1.15"/>
<line x1="153.80" y1="807.20" x2="231.30" y2="884.70" stroke="#c4c4c4" stroke-width="1.15"/>
<line x1="153.80" y1="807.20" x2="153.80" y2="916.80" stroke="#c4c4c4" stroke-width="1.15"/>
<line x1="153.80" y1="807.20" x2="76.30" y2="884.70" stroke="#c4c4c4" stroke-width="1.15"/>
<line x1="153.80" y1="807.20" x2="44.20" y2="807.20" stroke="#c4c4c4" stroke-width="1.15"/>
<line x1="153.80" y1="807.20" x2="76.30" y2="729.70" stroke="#c4c4c4" stroke-width="1.15"/>
<line x1="153.80" y1="807.20" x2="153.80" y2="697.60" stroke="#c4c4c4" stroke-width="1.15"/>
<line x1="153.80" y1="807.20" x2="231.30" y2="729.70" stroke="#c4c4c4" stroke-width="1.15"/>
<g>
<circle cx="111.10" cy="818.60" r="2.8" fill="#179417" fill-opacity=".9"/>
<circle cx="93.80" cy="828.00" r="2.8" fill="#179417" fill-opacity=".9"/>
<circle cx="110.90" cy="818.90" r="2.8" fill="#179417" fill-opacity=".9"/>
<circle cx="123.90" cy="819.20" r="2.8" fill="#179417" fill-opacity=".9"/>
<circle cx="129.00" cy="814.10" r="2.8" fill="#179417" fill-opacity=".9"/>
<circle cx="139.20" cy="803.90" r="2.8" fill="#179417" fill-opacity=".9"/>
<circle cx="144.30" cy="805.00" r="2.8" fill="#179417" fill-opacity=".9"/>
<circle cx="148.00" cy="804.60" r="2.8" fill="#179417" fill-opacity=".9"/>
<circle cx="150.90" cy="805.70" r="2.8" fill="#179417" fill-opacity=".9"/>
<circle cx="141.50" cy="806.50" r="2.8" fill="#179417" fill-opacity=".9"/>
<circle cx="116.40" cy="797.30" r="2.8" fill="#111" fill-opacity=".92"/>
<circle cx="125.90" cy="801.90" r="2.8" fill="#111" fill-opacity=".92"/>
<circle cx="123.90" cy="809.60" r="2.8" fill="#111" fill-opacity=".92"/>
<circle cx="124.60" cy="814.10" r="2.8" fill="#111" fill-opacity=".92"/>
<circle cx="127.50" cy="815.20" r="2.8" fill="#111" fill-opacity=".92"/>
<circle cx="117.90" cy="817.60" r="2.8" fill="#111" fill-opacity=".92"/>
<circle cx="137.00" cy="803.50" r="2.8" fill="#111" fill-opacity=".92"/>
<circle cx="134.50" cy="806.80" r="2.8" fill="#111" fill-opacity=".92"/>
<circle cx="134.50" cy="811.20" r="2.8" fill="#111" fill-opacity=".92"/>
<circle cx="140.30" cy="810.40" r="2.8" fill="#111" fill-opacity=".92"/>
<circle cx="145.00" cy="808.20" r="2.8" fill="#111" fill-opacity=".92"/>
<circle cx="148.70" cy="807.90" r="2.8" fill="#111" fill-opacity=".92"/>
<circle cx="107.70" cy="816.40" r="2.8" fill="#111" fill-opacity=".92"/>
<circle cx="106.20" cy="823.40" r="2.8" fill="#111" fill-opacity=".92"/>
<circle cx="90.90" cy="857.90" r="2.8" fill="#111" fill-opacity=".92"/>
<circle cx="142.50" cy="807.50" r="2.8" fill="#111" fill-opacity=".92"/>
<circle cx="146.50" cy="806.50" r="2.8" fill="#111" fill-opacity=".92"/>
<circle cx="153.8" cy="807.4" r="2.6" fill="none" stroke="#222" stroke-width="1"/>
</g>
<circle cx="153.8" cy="807.2" r="18.30" fill="none" stroke="#b4b4b4" stroke-width="1.15" stroke-dasharray="1.3 1.5"/>
<circle cx="153.8" cy="807.2" r="36.60" fill="none" stroke="#b4b4b4" stroke-width="1.15" stroke-dasharray="1.3 1.5"/>
<circle cx="153.8" cy="807.2" r="54.90" fill="none" stroke="#b4b4b4" stroke-width="1.15" stroke-dasharray="1.3 1.5"/>
<circle cx="153.8" cy="807.2" r="73.20" fill="none" stroke="#b4b4b4" stroke-width="1.15" stroke-dasharray="1.3 1.5"/>
<circle cx="153.8" cy="807.2" r="91.50" fill="none" stroke="#b4b4b4" stroke-width="1.15" stroke-dasharray="1.3 1.5"/>
<line x1="44.20" y1="807.20" x2="263.40" y2="807.20" stroke="#c8c8c8" stroke-width="1.0"/>
<line x1="153.80" y1="697.60" x2="153.80" y2="916.80" stroke="#c8c8c8" stroke-width="1.0"/>
<circle cx="153.8" cy="807.2" r="109.6" fill="none" stroke="#333" stroke-width="1.1"/>
<text x="152.90" y="792.20" font-size="9.2" text-anchor="end" fill="#8a8a8a" letter-spacing="0.3">0.2</text>
<text x="152.90" y="773.90" font-size="9.2" text-anchor="end" fill="#8a8a8a" letter-spacing="0.3">0.4</text>
<text x="152.90" y="755.60" font-size="9.2" text-anchor="end" fill="#8a8a8a" letter-spacing="0.3">0.6</text>
<text x="152.90" y="737.30" font-size="9.2" text-anchor="end" fill="#8a8a8a" letter-spacing="0.3">0.8</text>
<text x="152.90" y="719.00" font-size="9.2" text-anchor="end" fill="#8a8a8a" letter-spacing="0.3">1.0</text>
<text x="276.50" y="810.60" font-size="9.6" text-anchor="middle" fill="#262626" letter-spacing="0.3">0°</text>
<text x="240.56" y="897.36" font-size="9.6" text-anchor="middle" fill="#262626" letter-spacing="0.3">45°</text>
<text x="153.80" y="933.30" font-size="9.6" text-anchor="middle" fill="#262626" letter-spacing="0.3">90°</text>
<text x="67.04" y="897.36" font-size="9.6" text-anchor="middle" fill="#262626" letter-spacing="0.3">135°</text>
<text x="31.10" y="810.60" font-size="9.6" text-anchor="middle" fill="#262626" letter-spacing="0.3">180°</text>
<text x="67.04" y="723.84" font-size="9.6" text-anchor="middle" fill="#262626" letter-spacing="0.3">225°</text>
<text x="153.80" y="687.90" font-size="9.6" text-anchor="middle" fill="#262626" letter-spacing="0.3">270°</text>
<text x="240.56" y="723.84" font-size="9.6" text-anchor="middle" fill="#262626" letter-spacing="0.3">315°</text>
<rect x="224.3" y="680" width="100.2" height="31.2" rx="2" fill="#fff" stroke="#d5d5d5" stroke-width="0.9"/>
<circle cx="237.5" cy="689.1" r="2.8" fill="#249c24"/>
<circle cx="237.5" cy="703" r="2.8" fill="#222"/>
<text x="254.80" y="692.30" font-size="9.7" text-anchor="start" fill="#262626">CNTRL+SC+M</text>
<text x="254.80" y="706.20" font-size="9.7" text-anchor="start" fill="#262626">HGRY+SC+M</text>
<line x1="404.00" y1="665.00" x2="404.00" y2="932.77" stroke="#5e5e5e" stroke-width="1.55"/>
<line x1="403.23" y1="932.00" x2="669.80" y2="932.00" stroke="#5e5e5e" stroke-width="1.55"/>
<line x1="400.80" y1="920.25" x2="404.00" y2="920.25" stroke="#5e5e5e" stroke-width="1.1"/>
<text x="397.30" y="924.39" font-size="11.5" text-anchor="end" fill="#262626" letter-spacing="0.4">0.0</text>
<line x1="400.80" y1="861.75" x2="404.00" y2="861.75" stroke="#5e5e5e" stroke-width="1.1"/>
<text x="397.30" y="865.89" font-size="11.5" text-anchor="end" fill="#262626" letter-spacing="0.4">0.2</text>
<line x1="400.80" y1="803.25" x2="404.00" y2="803.25" stroke="#5e5e5e" stroke-width="1.1"/>
<text x="397.30" y="807.39" font-size="11.5" text-anchor="end" fill="#262626" letter-spacing="0.4">0.4</text>
<line x1="400.80" y1="744.75" x2="404.00" y2="744.75" stroke="#5e5e5e" stroke-width="1.1"/>
<text x="397.30" y="748.89" font-size="11.5" text-anchor="end" fill="#262626" letter-spacing="0.4">0.6</text>
<line x1="400.80" y1="686.25" x2="404.00" y2="686.25" stroke="#5e5e5e" stroke-width="1.1"/>
<text x="397.30" y="690.39" font-size="11.5" text-anchor="end" fill="#262626" letter-spacing="0.4">0.8</text>
<line x1="465.30" y1="932.00" x2="465.30" y2="935.20" stroke="#5e5e5e" stroke-width="1.1"/>
<line x1="567.50" y1="932.00" x2="567.50" y2="935.20" stroke="#5e5e5e" stroke-width="1.1"/>
<text x="370.80" y="798.90" font-size="15.1" text-anchor="middle" fill="#262626" transform="rotate(-90 370.80 798.90)">R proj</text>
<text x="465.20" y="949.50" font-size="12.8" text-anchor="middle" fill="#262626">CNTRL+SC+M</text>
<text x="567.60" y="949.50" font-size="12.8" text-anchor="middle" fill="#262626">HGRY+SC+M</text>
<polyline points="465.30,694.50 465.30,677.40 567.50,677.40 567.50,700.00" stroke="#333" stroke-width="1.2" fill="none"/>
<text x="516.60" y="672.10" font-size="13" text-anchor="middle" fill="#262626" letter-spacing="0.3">ns</text>
<line x1="465.30" y1="836.30" x2="465.30" y2="857.50" stroke="#339933" stroke-width="1.3"/>
<line x1="465.30" y1="895.00" x2="465.30" y2="920.30" stroke="#339933" stroke-width="1.3"/>
<line x1="457.00" y1="836.30" x2="474.00" y2="836.30" stroke="#339933" stroke-width="1.3"/>
<line x1="457.00" y1="920.30" x2="474.00" y2="920.30" stroke="#339933" stroke-width="1.3"/>
<rect x="447.80" y="857.50" width="34.70" height="37.50" stroke="#339933" stroke-width="1.3" fill="none"/>
<line x1="447.80" y1="878.30" x2="482.50" y2="878.30" stroke="#339933" stroke-width="1.3"/>
<circle cx="470.00" cy="731.00" r="3.3" class="g"/>
<circle cx="466.25" cy="777.75" r="3.3" class="g"/>
<circle cx="460.00" cy="836.25" r="3.3" class="g"/>
<circle cx="465.25" cy="837.00" r="3.3" class="g"/>
<circle cx="477.00" cy="848.25" r="3.3" class="g"/>
<circle cx="472.50" cy="860.75" r="3.3" class="g"/>
<circle cx="467.00" cy="864.00" r="3.3" class="g"/>
<circle cx="469.50" cy="865.75" r="3.3" class="g"/>
<circle cx="456.25" cy="867.25" r="3.3" class="g"/>
<circle cx="469.00" cy="877.00" r="3.3" class="g"/>
<circle cx="467.00" cy="879.50" r="3.3" class="g"/>
<circle cx="457.50" cy="881.50" r="3.3" class="g"/>
<circle cx="470.00" cy="893.25" r="3.3" class="g"/>
<circle cx="443.75" cy="899.75" r="3.3" class="g"/>
<circle cx="465.50" cy="909.50" r="3.3" class="g"/>
<circle cx="455.25" cy="914.00" r="3.3" class="g"/>
<circle cx="463.25" cy="914.50" r="3.3" class="g"/>
<circle cx="464.00" cy="920.25" r="3.3" class="g"/>
<line x1="567.50" y1="700.30" x2="567.50" y2="807.00" stroke="#000" stroke-width="1.3"/>
<line x1="567.50" y1="889.30" x2="567.50" y2="914.50" stroke="#000" stroke-width="1.3"/>
<line x1="558.50" y1="700.30" x2="576.80" y2="700.30" stroke="#000" stroke-width="1.3"/>
<line x1="558.50" y1="914.50" x2="576.80" y2="914.50" stroke="#000" stroke-width="1.3"/>
<rect x="550.00" y="807.00" width="35.00" height="82.30" stroke="#000" stroke-width="1.3" fill="none"/>
<line x1="550.00" y1="857.50" x2="585.00" y2="857.50" stroke="#000" stroke-width="1.3"/>
<circle cx="567.50" cy="700.25" r="3.3" class="k"/>
<circle cx="568.50" cy="779.00" r="3.3" class="k"/>
<circle cx="570.00" cy="777.75" r="3.3" class="k"/>
<circle cx="553.00" cy="807.50" r="3.3" class="k"/>
<circle cx="571.50" cy="805.50" r="3.3" class="k"/>
<circle cx="577.25" cy="805.00" r="3.3" class="k"/>
<circle cx="562.25" cy="814.50" r="3.3" class="k"/>
<circle cx="587.50" cy="827.25" r="3.3" class="k"/>
<circle cx="592.00" cy="829.25" r="3.3" class="k"/>
<circle cx="565.50" cy="855.25" r="3.3" class="k"/>
<circle cx="579.50" cy="859.25" r="3.3" class="k"/>
<circle cx="574.50" cy="872.50" r="3.3" class="k"/>
<circle cx="579.25" cy="871.25" r="3.3" class="k"/>
<circle cx="556.75" cy="882.50" r="3.3" class="k"/>
<circle cx="582.25" cy="888.00" r="3.3" class="k"/>
<circle cx="570.50" cy="894.50" r="3.3" class="k"/>
<circle cx="559.25" cy="902.75" r="3.3" class="k"/>
<circle cx="576.00" cy="904.25" r="3.3" class="k"/>
<circle cx="561.75" cy="915.00" r="3.3" class="k"/>
<circle cx="585.00" cy="913.75" r="3.3" class="k"/>
<defs>
<filter id="hg" filterUnits="userSpaceOnUse" x="7" y="968.8" width="239" height="227.2" color-interpolation-filters="sRGB"><feGaussianBlur in="SourceGraphic" stdDeviation="2.4"/><feComponentTransfer><feFuncR type="table" tableValues="0.0000 0.0000 0.0000 0.0000 0.0000 0.0000 0.0000 0.0000 0.0000 0.0000 0.0000 0.0000 0.0000 0.0000 0.0000 0.0000 0.0000 0.0488 0.0977 0.1465 0.1953 0.2441 0.2930 0.3418 0.3906 0.4395 0.4883 0.5371 0.5859 0.6348 0.6836 0.7324 0.7812 0.8301 0.8789 0.9277 0.9766 1.0000 1.0000 1.0000 1.0000 1.0000 1.0000 1.0000 1.0000 1.0000 1.0000 1.0000 1.0000 1.0000 1.0000 1.0000 1.0000 1.0000 1.0000 1.0000 1.0000 1.0000 1.0000 1.0000 1.0000 1.0000 1.0000 1.0000 1.0000"/><feFuncG type="table" tableValues="0.0000 0.0000 0.0000 0.0000 0.0000 0.0000 0.0000 0.0000 0.0000 0.0000 0.0000 0.0000 0.0000 0.0000 0.0000 0.0000 0.0000 0.0000 0.0000 0.0000 0.0000 0.0000 0.0000 0.0000 0.0000 0.0000 0.0000 0.0038 0.0350 0.0663 0.0975 0.1288 0.1600 0.1913 0.2225 0.2538 0.2850 0.3163 0.3475 0.3788 0.4100 0.4413 0.4725 0.5038 0.5350 0.5663 0.5975 0.6288 0.6600 0.6913 0.7225 0.7538 0.7850 0.8163 0.8475 0.8788 0.9100 0.9413 0.9725 1.0000 1.0000 1.0000 1.0000 1.0000 1.0000"/><feFuncB type="table" tableValues="0.0000 0.0625 0.1250 0.1875 0.2500 0.3125 0.3750 0.4375 0.5000 0.5625 0.6250 0.6875 0.7500 0.8125 0.8750 0.9375 1.0000 1.0000 1.0000 1.0000 1.0000 1.0000 1.0000 1.0000 1.0000 1.0000 1.0000 0.9963 0.9650 0.9338 0.9025 0.8713 0.8400 0.8088 0.7775 0.7463 0.7150 0.6838 0.6525 0.6213 0.5900 0.5588 0.5275 0.4963 0.4650 0.4338 0.4025 0.3713 0.3400 0.3088 0.2775 0.2463 0.2150 0.1838 0.1525 0.1213 0.0900 0.0588 0.0275 0.0234 0.2188 0.4141 0.6094 0.8047 1.0000"/><feFuncA type="linear" slope="0" intercept="1"/></feComponentTransfer></filter>
<filter id="hh" filterUnits="userSpaceOnUse" x="407" y="968" width="242.3" height="230.8" color-interpolation-filters="sRGB"><feGaussianBlur in="SourceGraphic" stdDeviation="2.4"/><feComponentTransfer><feFuncR type="table" tableValues="0.0000 0.0000 0.0000 0.0000 0.0000 0.0000 0.0000 0.0000 0.0000 0.0000 0.0000 0.0000 0.0000 0.0000 0.0000 0.0000 0.0000 0.0488 0.0977 0.1465 0.1953 0.2441 0.2930 0.3418 0.3906 0.4395 0.4883 0.5371 0.5859 0.6348 0.6836 0.7324 0.7812 0.8301 0.8789 0.9277 0.9766 1.0000 1.0000 1.0000 1.0000 1.0000 1.0000 1.0000 1.0000 1.0000 1.0000 1.0000 1.0000 1.0000 1.0000 1.0000 1.0000 1.0000 1.0000 1.0000 1.0000 1.0000 1.0000 1.0000 1.0000 1.0000 1.0000 1.0000 1.0000"/><feFuncG type="table" tableValues="0.0000 0.0000 0.0000 0.0000 0.0000 0.0000 0.0000 0.0000 0.0000 0.0000 0.0000 0.0000 0.0000 0.0000 0.0000 0.0000 0.0000 0.0000 0.0000 0.0000 0.0000 0.0000 0.0000 0.0000 0.0000 0.0000 0.0000 0.0038 0.0350 0.0663 0.0975 0.1288 0.1600 0.1913 0.2225 0.2538 0.2850 0.3163 0.3475 0.3788 0.4100 0.4413 0.4725 0.5038 0.5350 0.5663 0.5975 0.6288 0.6600 0.6913 0.7225 0.7538 0.7850 0.8163 0.8475 0.8788 0.9100 0.9413 0.9725 1.0000 1.0000 1.0000 1.0000 1.0000 1.0000"/><feFuncB type="table" tableValues="0.0000 0.0625 0.1250 0.1875 0.2500 0.3125 0.3750 0.4375 0.5000 0.5625 0.6250 0.6875 0.7500 0.8125 0.8750 0.9375 1.0000 1.0000 1.0000 1.0000 1.0000 1.0000 1.0000 1.0000 1.0000 1.0000 1.0000 0.9963 0.9650 0.9338 0.9025 0.8713 0.8400 0.8088 0.7775 0.7463 0.7150 0.6838 0.6525 0.6213 0.5900 0.5588 0.5275 0.4963 0.4650 0.4338 0.4025 0.3713 0.3400 0.3088 0.2775 0.2463 0.2150 0.1838 0.1525 0.1213 0.0900 0.0588 0.0275 0.0234 0.2188 0.4141 0.6094 0.8047 1.0000"/><feFuncA type="linear" slope="0" intercept="1"/></feComponentTransfer></filter>
<linearGradient id="cbar" x1="0" y1="0" x2="0" y2="1"><stop offset="0.0000" stop-color="rgb(255,255,255)"/><stop offset="0.0312" stop-color="rgb(255,255,155)"/><stop offset="0.0625" stop-color="rgb(255,255,56)"/><stop offset="0.0938" stop-color="rgb(255,248,7)"/><stop offset="0.1250" stop-color="rgb(255,232,23)"/><stop offset="0.1562" stop-color="rgb(255,216,39)"/><stop offset="0.1875" stop-color="rgb(255,200,55)"/><stop offset="0.2188" stop-color="rgb(255,184,71)"/><stop offset="0.2500" stop-color="rgb(255,168,87)"/><stop offset="0.2812" stop-color="rgb(255,152,103)"/><stop offset="0.3125" stop-color="rgb(255,136,119)"/><stop offset="0.3438" stop-color="rgb(255,120,135)"/><stop offset="0.3750" stop-color="rgb(255,105,150)"/><stop offset="0.4062" stop-color="rgb(255,89,166)"/><stop offset="0.4375" stop-color="rgb(249,73,182)"/><stop offset="0.4688" stop-color="rgb(224,57,198)"/><stop offset="0.5000" stop-color="rgb(199,41,214)"/><stop offset="0.5312" stop-color="rgb(174,25,230)"/><stop offset="0.5625" stop-color="rgb(149,9,246)"/><stop offset="0.5938" stop-color="rgb(125,0,255)"/><stop offset="0.6250" stop-color="rgb(100,0,255)"/><stop offset="0.6562" stop-color="rgb(75,0,255)"/><stop offset="0.6875" stop-color="rgb(50,0,255)"/><stop offset="0.7188" stop-color="rgb(25,0,255)"/><stop offset="0.7500" stop-color="rgb(0,0,255)"/><stop offset="0.7812" stop-color="rgb(0,0,223)"/><stop offset="0.8125" stop-color="rgb(0,0,191)"/><stop offset="0.8438" stop-color="rgb(0,0,159)"/><stop offset="0.8750" stop-color="rgb(0,0,128)"/><stop offset="0.9062" stop-color="rgb(0,0,96)"/><stop offset="0.9375" stop-color="rgb(0,0,64)"/><stop offset="0.9688" stop-color="rgb(0,0,32)"/><stop offset="1.0000" stop-color="rgb(0,0,0)"/></linearGradient>
</defs>
<g filter="url(#hg)">
<rect x="-20" y="940" width="300" height="290" fill="#000"/>
<rect x="0" y="1194.3" width="260" height="6" fill="rgb(107,107,107)"/>
<rect x="0" y="960" width="260" height="9.5" fill="rgb(20,20,20)"/>
<rect x="0" y="960" width="7.5" height="250" fill="rgb(20,20,20)"/>
<rect x="245.5" y="960" width="10" height="250" fill="rgb(20,20,20)"/>
<path d="M40,972 C60,971 80,973 95,976 C108,981 115,987 124,992" stroke="rgb(32,32,32)" stroke-width="7" fill="none" stroke-linecap="round"/>
<path d="M44,976 C50,984 54,991 56,996" stroke="rgb(28,28,28)" stroke-width="6" fill="none" stroke-linecap="round"/>
<path d="M132,986 C150,987 170,992 188,990 C200,986 208,975 218,980 C224,986 215,995 198,995" stroke="rgb(9,9,9)" stroke-width="6" fill="none" stroke-linecap="round"/>
<path d="M38,1060 L60,1074 L38,1080" stroke="rgb(10,10,10)" stroke-width="4" fill="none" stroke-linecap="round"/>
<path d="M10.00,962.00C3.83,964.17 10.67,971.17 11.00,975.00C11.33,978.83 11.75,980.33 12.00,985.00C12.25,989.67 12.33,997.17 12.50,1003.00C12.67,1008.83 12.75,1013.83 13.00,1020.00C13.25,1026.17 13.75,1033.33 14.00,1040.00C14.25,1046.67 14.33,1054.17 14.50,1060.00C14.67,1065.83 14.50,1070.00 15.00,1075.00C15.50,1080.00 17.00,1084.17 17.50,1090.00C18.00,1095.83 17.83,1103.33 18.00,1110.00C18.17,1116.67 18.33,1123.33 18.50,1130.00C18.67,1136.67 18.75,1144.67 19.00,1150.00C19.25,1155.33 19.50,1158.33 20.00,1162.00C20.50,1165.67 20.83,1169.17 22.00,1172.00C23.17,1174.83 25.33,1179.00 27.00,1179.00C28.67,1179.00 30.50,1174.83 32.00,1172.00C33.50,1169.17 35.17,1165.67 36.00,1162.00C36.83,1158.33 36.50,1155.33 37.00,1150.00C37.50,1144.67 39.00,1136.67 39.00,1130.00C39.00,1123.33 37.50,1116.67 37.00,1110.00C36.50,1103.33 36.00,1095.83 36.00,1090.00C36.00,1084.17 36.83,1080.00 37.00,1075.00C37.17,1070.00 37.00,1065.83 37.00,1060.00C37.00,1054.17 37.00,1046.67 37.00,1040.00C37.00,1033.33 36.92,1026.17 37.00,1020.00C37.08,1013.83 37.00,1008.83 37.50,1003.00C38.00,997.17 38.75,989.67 40.00,985.00C41.25,980.33 43.67,978.83 45.00,975.00C46.33,971.17 53.83,964.17 48.00,962.00C42.17,959.83 16.17,959.83 10.00,962.00Z" fill="rgb(76,76,76)"/>
<path d="M13.50,962.00C9.08,964.17 14.25,971.17 14.50,975.00C14.75,978.83 14.58,980.33 15.00,985.00C15.42,989.67 16.58,997.17 17.00,1003.00C17.42,1008.83 17.33,1013.83 17.50,1020.00C17.67,1026.17 17.83,1033.33 18.00,1040.00C18.17,1046.67 18.33,1054.17 18.50,1060.00C18.67,1065.83 18.50,1070.00 19.00,1075.00C19.50,1080.00 21.00,1084.17 21.50,1090.00C22.00,1095.83 21.92,1103.33 22.00,1110.00C22.08,1116.67 22.00,1123.33 22.00,1130.00C22.00,1136.67 21.92,1144.67 22.00,1150.00C22.08,1155.33 22.00,1158.33 22.50,1162.00C23.00,1165.67 24.25,1169.67 25.00,1172.00C25.75,1174.33 26.25,1176.00 27.00,1176.00C27.75,1176.00 28.50,1174.33 29.50,1172.00C30.50,1169.67 32.25,1165.67 33.00,1162.00C33.75,1158.33 33.42,1155.33 34.00,1150.00C34.58,1144.67 36.50,1136.67 36.50,1130.00C36.50,1123.33 34.58,1116.67 34.00,1110.00C33.42,1103.33 33.67,1095.83 33.00,1090.00C32.33,1084.17 30.42,1080.00 30.00,1075.00C29.58,1070.00 30.33,1065.83 30.50,1060.00C30.67,1054.17 30.75,1046.67 31.00,1040.00C31.25,1033.33 31.67,1026.17 32.00,1020.00C32.33,1013.83 32.50,1008.83 33.00,1003.00C33.50,997.17 34.17,989.67 35.00,985.00C35.83,980.33 37.00,978.83 38.00,975.00C39.00,971.17 45.08,964.17 41.00,962.00C36.92,959.83 17.92,959.83 13.50,962.00Z" fill="rgb(163,163,163)"/>
<path d="M23.20,975.00C21.93,976.67 22.70,980.33 22.20,985.00C21.70,989.67 20.53,997.17 20.20,1003.00C19.87,1008.83 20.20,1013.83 20.20,1020.00C20.20,1026.17 20.12,1033.33 20.20,1040.00C20.28,1046.67 20.53,1054.17 20.70,1060.00C20.87,1065.83 20.95,1070.00 21.20,1075.00C21.45,1080.00 21.87,1084.17 22.20,1090.00C22.53,1095.83 22.70,1103.33 23.20,1110.00C23.70,1116.67 25.20,1123.33 25.20,1130.00C25.20,1136.67 23.45,1144.67 23.20,1150.00C22.95,1155.33 22.98,1159.00 23.70,1162.00C24.42,1165.00 26.23,1168.00 27.50,1168.00C28.77,1168.00 30.42,1165.00 31.30,1162.00C32.18,1159.00 32.05,1155.33 32.80,1150.00C33.55,1144.67 35.97,1136.67 35.80,1130.00C35.63,1123.33 32.63,1116.67 31.80,1110.00C30.97,1103.33 31.47,1095.83 30.80,1090.00C30.13,1084.17 28.30,1080.00 27.80,1075.00C27.30,1070.00 27.80,1065.83 27.80,1060.00C27.80,1054.17 27.47,1046.67 27.80,1040.00C28.13,1033.33 29.30,1026.17 29.80,1020.00C30.30,1013.83 30.63,1008.83 30.80,1003.00C30.97,997.17 30.97,989.67 30.80,985.00C30.63,980.33 31.07,976.67 29.80,975.00C28.53,973.33 24.47,973.33 23.20,975.00Z" fill="rgb(230,230,230)"/>
<ellipse cx="25.5" cy="1012.0" rx="3.0" ry="5.0" fill="rgb(245,245,245)"/>
<ellipse cx="31.0" cy="1130.0" rx="4.0" ry="7.0" fill="rgb(245,245,245)"/>
<ellipse cx="26.5" cy="1093.0" rx="3.0" ry="5.0" fill="rgb(235,235,235)"/>
<ellipse cx="24.0" cy="1045.0" rx="3.0" ry="5.0" fill="rgb(235,235,235)"/>
<ellipse cx="25.0" cy="1027.0" rx="3.0" ry="4.0" fill="rgb(199,199,199)"/>
<ellipse cx="25.0" cy="1070.0" rx="2.5" ry="4.0" fill="rgb(204,204,204)"/>
<ellipse cx="26.0" cy="1108.0" rx="3.0" ry="4.0" fill="rgb(199,199,199)"/>
<ellipse cx="18.0" cy="990.0" rx="3.0" ry="7.0" fill="rgb(148,148,148)"/>
<ellipse cx="33.0" cy="1068.0" rx="2.5" ry="6.0" fill="rgb(117,117,117)"/>
<ellipse cx="27.0" cy="1160.0" rx="3.0" ry="6.0" fill="rgb(189,189,189)"/>
<ellipse cx="20.0" cy="971.0" rx="3.0" ry="3.0" fill="rgb(115,115,115)"/>
<ellipse cx="28.0" cy="989.6" rx="2.1" ry="3.7" fill="rgb(235,235,235)"/>
<ellipse cx="25.3" cy="995.2" rx="2.6" ry="2.6" fill="rgb(189,189,189)"/>
<ellipse cx="25.1" cy="1003.0" rx="2.7" ry="2.6" fill="rgb(242,242,242)"/>
<ellipse cx="23.8" cy="1009.9" rx="2.8" ry="3.9" fill="rgb(178,178,178)"/>
<ellipse cx="25.4" cy="1016.2" rx="2.3" ry="3.3" fill="rgb(178,178,178)"/>
<ellipse cx="23.9" cy="1023.6" rx="2.1" ry="3.0" fill="rgb(204,204,204)"/>
<ellipse cx="22.8" cy="1032.3" rx="2.2" ry="2.6" fill="rgb(204,204,204)"/>
<ellipse cx="24.3" cy="1039.5" rx="2.6" ry="3.3" fill="rgb(189,189,189)"/>
<ellipse cx="23.9" cy="1047.7" rx="2.4" ry="2.9" fill="rgb(235,235,235)"/>
<ellipse cx="25.0" cy="1052.0" rx="2.7" ry="3.3" fill="rgb(204,204,204)"/>
<ellipse cx="25.2" cy="1059.2" rx="3.2" ry="2.7" fill="rgb(235,235,235)"/>
<ellipse cx="23.0" cy="1066.4" rx="3.1" ry="3.1" fill="rgb(242,242,242)"/>
<ellipse cx="25.5" cy="1074.3" rx="3.1" ry="3.0" fill="rgb(189,189,189)"/>
<ellipse cx="25.7" cy="1081.3" rx="2.5" ry="3.8" fill="rgb(235,235,235)"/>
<ellipse cx="26.1" cy="1088.7" rx="2.1" ry="3.6" fill="rgb(235,235,235)"/>
<ellipse cx="28.7" cy="1096.3" rx="2.3" ry="3.1" fill="rgb(178,178,178)"/>
<ellipse cx="25.2" cy="1101.8" rx="2.2" ry="2.7" fill="rgb(235,235,235)"/>
<ellipse cx="26.3" cy="1108.1" rx="2.9" ry="3.1" fill="rgb(189,189,189)"/>
<ellipse cx="26.7" cy="1115.8" rx="2.7" ry="3.8" fill="rgb(242,242,242)"/>
<ellipse cx="30.9" cy="1122.1" rx="2.5" ry="3.0" fill="rgb(242,242,242)"/>
<ellipse cx="32.3" cy="1128.6" rx="2.2" ry="2.8" fill="rgb(242,242,242)"/>
<ellipse cx="27.7" cy="1138.3" rx="2.2" ry="2.9" fill="rgb(204,204,204)"/>
<ellipse cx="28.4" cy="1143.5" rx="2.7" ry="3.9" fill="rgb(204,204,204)"/>
<ellipse cx="29.8" cy="1151.6" rx="2.9" ry="3.2" fill="rgb(178,178,178)"/>
<ellipse cx="27.2" cy="1157.6" rx="2.1" ry="3.5" fill="rgb(178,178,178)"/>
<ellipse cx="25.5" cy="1004.0" rx="5.0" ry="8.0" fill="rgb(255,255,255)"/>
<rect x="123.2" y="960" width="5.8" height="250" fill="rgb(79,79,79)"/>
<ellipse cx="126.0" cy="992.0" rx="3.0" ry="4.0" fill="rgb(97,97,97)"/>
</g>
<rect x="254.3" y="971.3" width="12.4" height="223.5" fill="url(#cbar)" stroke="#333" stroke-width="0.9"/>
<line x1="266.60" y1="1194.80" x2="269.30" y2="1194.80" stroke="#333" stroke-width="0.9"/>
<text x="271.50" y="1198.20" font-size="9.2" text-anchor="start" fill="#262626" letter-spacing="0.1">0</text>
<line x1="266.60" y1="1151.02" x2="269.30" y2="1151.02" stroke="#333" stroke-width="0.9"/>
<text x="271.50" y="1154.42" font-size="9.2" text-anchor="start" fill="#262626" letter-spacing="0.1">50</text>
<line x1="266.60" y1="1107.23" x2="269.30" y2="1107.23" stroke="#333" stroke-width="0.9"/>
<text x="271.50" y="1110.63" font-size="9.2" text-anchor="start" fill="#262626" letter-spacing="0.1">100</text>
<line x1="266.60" y1="1063.45" x2="269.30" y2="1063.45" stroke="#333" stroke-width="0.9"/>
<text x="271.50" y="1066.85" font-size="9.2" text-anchor="start" fill="#262626" letter-spacing="0.1">150</text>
<line x1="266.60" y1="1019.66" x2="269.30" y2="1019.66" stroke="#333" stroke-width="0.9"/>
<text x="271.50" y="1023.06" font-size="9.2" text-anchor="start" fill="#262626" letter-spacing="0.1">200</text>
<line x1="266.60" y1="975.88" x2="269.30" y2="975.88" stroke="#333" stroke-width="0.9"/>
<text x="271.50" y="979.28" font-size="9.2" text-anchor="start" fill="#262626" letter-spacing="0.1">250</text>
<text x="299.20" y="1083.35" font-size="9.4" text-anchor="middle" fill="#111" font-weight="bold" letter-spacing="0.32" transform="rotate(90 299.20 1083.35)">Intensity (a.u.)</text>
<line x1="193.90" y1="1163.70" x2="216.90" y2="1163.70" stroke="#eee" stroke-width="2"/>
<text x="210.40" y="1183.40" font-size="7.9" text-anchor="middle" fill="#e8e8e8" font-weight="bold" letter-spacing="0.15">1cm = 11.35 cm</text>
<g filter="url(#hh)">
<rect x="380" y="940" width="300" height="290" fill="#000"/>
<rect x="380" y="1197.3" width="300" height="6" fill="rgb(76,76,76)"/>
<rect x="380" y="960" width="300" height="8.5" fill="rgb(20,20,20)"/>
<rect x="380" y="960" width="27.5" height="250" fill="rgb(20,20,20)"/>
<rect x="648.5" y="960" width="20" height="250" fill="rgb(20,20,20)"/>
<path d="M413.00,980.00C410.42,982.33 411.58,985.83 411.50,990.00C411.42,994.17 412.25,1000.00 412.50,1005.00C412.75,1010.00 412.83,1012.50 413.00,1020.00C413.17,1027.50 413.33,1040.00 413.50,1050.00C413.67,1060.00 413.75,1071.67 414.00,1080.00C414.25,1088.33 414.75,1093.33 415.00,1100.00C415.25,1106.67 415.33,1113.33 415.50,1120.00C415.67,1126.67 415.75,1134.17 416.00,1140.00C416.25,1145.83 416.50,1150.67 417.00,1155.00C417.50,1159.33 418.17,1163.00 419.00,1166.00C419.83,1169.00 420.67,1170.67 422.00,1173.00C423.33,1175.33 425.00,1180.00 427.00,1180.00C429.00,1180.00 432.25,1175.33 434.00,1173.00C435.75,1170.67 436.50,1169.00 437.50,1166.00C438.50,1163.00 439.42,1159.33 440.00,1155.00C440.58,1150.67 440.83,1145.83 441.00,1140.00C441.17,1134.17 441.17,1126.67 441.00,1120.00C440.83,1113.33 440.17,1106.67 440.00,1100.00C439.83,1093.33 440.08,1088.33 440.00,1080.00C439.92,1071.67 439.58,1060.00 439.50,1050.00C439.42,1040.00 439.42,1027.50 439.50,1020.00C439.58,1012.50 439.92,1010.00 440.00,1005.00C440.08,1000.00 440.00,994.17 440.00,990.00C440.00,985.83 442.17,982.33 440.00,980.00C437.83,977.67 431.50,976.00 427.00,976.00C422.50,976.00 415.58,977.67 413.00,980.00Z" fill="rgb(76,76,76)"/>
<path d="M417.00,980.00C415.33,981.92 415.17,985.83 415.00,990.00C414.83,994.17 415.50,1000.00 416.00,1005.00C416.50,1010.00 417.67,1012.50 418.00,1020.00C418.33,1027.50 418.00,1040.00 418.00,1050.00C418.00,1060.00 417.83,1071.67 418.00,1080.00C418.17,1088.33 418.75,1093.33 419.00,1100.00C419.25,1106.67 419.33,1113.33 419.50,1120.00C419.67,1126.67 419.75,1134.17 420.00,1140.00C420.25,1145.83 420.67,1150.67 421.00,1155.00C421.33,1159.33 421.33,1163.00 422.00,1166.00C422.67,1169.00 424.08,1171.17 425.00,1173.00C425.92,1174.83 426.67,1177.00 427.50,1177.00C428.33,1177.00 428.92,1174.83 430.00,1173.00C431.08,1171.17 432.92,1169.00 434.00,1166.00C435.08,1163.00 435.92,1159.33 436.50,1155.00C437.08,1150.67 437.42,1145.83 437.50,1140.00C437.58,1134.17 437.25,1126.67 437.00,1120.00C436.75,1113.33 436.25,1106.67 436.00,1100.00C435.75,1093.33 435.67,1088.33 435.50,1080.00C435.33,1071.67 435.25,1060.00 435.00,1050.00C434.75,1040.00 434.00,1027.50 434.00,1020.00C434.00,1012.50 434.83,1010.00 435.00,1005.00C435.17,1000.00 435.00,994.17 435.00,990.00C435.00,985.83 436.67,981.92 435.00,980.00C433.33,978.08 428.00,978.50 425.00,978.50C422.00,978.50 418.67,978.08 417.00,980.00Z" fill="rgb(163,163,163)"/>
<path d="M425.70,1005.00C424.48,1008.67 422.37,1012.50 421.70,1020.00C421.03,1027.50 421.70,1040.00 421.70,1050.00C421.70,1060.00 421.70,1071.67 421.70,1080.00C421.70,1088.33 421.53,1093.33 421.70,1100.00C421.87,1106.67 422.70,1113.33 422.70,1120.00C422.70,1126.67 421.70,1134.17 421.70,1140.00C421.70,1145.83 421.48,1150.67 422.70,1155.00C423.92,1159.33 426.73,1166.00 429.00,1166.00C431.27,1166.00 434.92,1159.33 436.30,1155.00C437.68,1150.67 437.30,1145.83 437.30,1140.00C437.30,1134.17 436.63,1126.67 436.30,1120.00C435.97,1113.33 435.63,1106.67 435.30,1100.00C434.97,1093.33 434.63,1088.33 434.30,1080.00C433.97,1071.67 433.63,1060.00 433.30,1050.00C432.97,1040.00 432.30,1027.50 432.30,1020.00C432.30,1012.50 433.85,1008.67 433.30,1005.00C432.75,1001.33 430.27,998.00 429.00,998.00C427.73,998.00 426.92,1001.33 425.70,1005.00Z" fill="rgb(230,230,230)"/>
<path d="M431,962 L431,976" stroke="rgb(84,84,84)" stroke-width="8" fill="none"/>
<ellipse cx="432.0" cy="967.0" rx="3.0" ry="3.0" fill="rgb(115,115,115)"/>
<ellipse cx="417.5" cy="985.0" rx="3.0" ry="3.5" fill="rgb(189,189,189)"/>
<ellipse cx="430.0" cy="1003.0" rx="3.5" ry="6.0" fill="rgb(240,240,240)"/>
<ellipse cx="424.5" cy="992.0" rx="3.5" ry="4.0" fill="rgb(122,122,122)"/>
<ellipse cx="419.5" cy="1010.0" rx="2.5" ry="6.0" fill="rgb(163,163,163)"/>
<ellipse cx="425.0" cy="1108.0" rx="3.0" ry="4.0" fill="rgb(158,158,158)"/>
<ellipse cx="430.0" cy="1140.0" rx="5.0" ry="6.0" fill="rgb(255,255,255)"/>
<ellipse cx="430.0" cy="1121.0" rx="3.0" ry="4.0" fill="rgb(242,242,242)"/>
<ellipse cx="427.0" cy="1040.0" rx="3.0" ry="8.0" fill="rgb(235,235,235)"/>
<ellipse cx="428.0" cy="1075.0" rx="3.0" ry="6.0" fill="rgb(235,235,235)"/>
<ellipse cx="423.0" cy="1090.0" rx="2.5" ry="4.0" fill="rgb(199,199,199)"/>
<ellipse cx="429.0" cy="1160.0" rx="3.0" ry="5.0" fill="rgb(199,199,199)"/>
<ellipse cx="430.7" cy="1001.4" rx="3.2" ry="3.2" fill="rgb(242,242,242)"/>
<ellipse cx="426.6" cy="1007.2" rx="2.8" ry="3.4" fill="rgb(173,173,173)"/>
<ellipse cx="426.1" cy="1011.2" rx="2.3" ry="3.7" fill="rgb(204,204,204)"/>
<ellipse cx="429.3" cy="1018.4" rx="2.7" ry="3.2" fill="rgb(230,230,230)"/>
<ellipse cx="429.2" cy="1022.6" rx="2.2" ry="3.3" fill="rgb(230,230,230)"/>
<ellipse cx="425.7" cy="1031.5" rx="3.0" ry="3.7" fill="rgb(184,184,184)"/>
<ellipse cx="428.1" cy="1037.4" rx="2.9" ry="3.5" fill="rgb(237,237,237)"/>
<ellipse cx="425.5" cy="1040.3" rx="3.1" ry="3.1" fill="rgb(242,242,242)"/>
<ellipse cx="431.5" cy="1049.4" rx="3.1" ry="3.0" fill="rgb(173,173,173)"/>
<ellipse cx="428.6" cy="1052.1" rx="2.9" ry="2.7" fill="rgb(204,204,204)"/>
<ellipse cx="430.6" cy="1059.5" rx="3.4" ry="3.8" fill="rgb(184,184,184)"/>
<ellipse cx="426.8" cy="1067.7" rx="2.3" ry="3.1" fill="rgb(184,184,184)"/>
<ellipse cx="427.9" cy="1070.3" rx="3.0" ry="3.7" fill="rgb(230,230,230)"/>
<ellipse cx="427.5" cy="1077.2" rx="2.2" ry="3.1" fill="rgb(237,237,237)"/>
<ellipse cx="426.3" cy="1084.8" rx="2.2" ry="3.2" fill="rgb(184,184,184)"/>
<ellipse cx="426.6" cy="1090.2" rx="2.8" ry="2.8" fill="rgb(242,242,242)"/>
<ellipse cx="430.1" cy="1095.7" rx="2.7" ry="3.1" fill="rgb(230,230,230)"/>
<ellipse cx="425.5" cy="1103.5" rx="3.5" ry="3.4" fill="rgb(204,204,204)"/>
<ellipse cx="426.8" cy="1107.6" rx="3.3" ry="3.5" fill="rgb(184,184,184)"/>
<ellipse cx="425.8" cy="1112.6" rx="2.8" ry="2.5" fill="rgb(184,184,184)"/>
<ellipse cx="427.5" cy="1119.2" rx="2.3" ry="2.6" fill="rgb(173,173,173)"/>
<ellipse cx="429.3" cy="1124.1" rx="2.7" ry="3.4" fill="rgb(173,173,173)"/>
<ellipse cx="431.3" cy="1131.9" rx="2.9" ry="3.8" fill="rgb(204,204,204)"/>
<ellipse cx="429.3" cy="1137.2" rx="2.5" ry="3.4" fill="rgb(204,204,204)"/>
<ellipse cx="426.6" cy="1145.0" rx="3.4" ry="2.8" fill="rgb(230,230,230)"/>
<ellipse cx="430.8" cy="1150.4" rx="2.7" ry="2.7" fill="rgb(242,242,242)"/>
<ellipse cx="428.6" cy="1155.0" rx="3.2" ry="3.1" fill="rgb(184,184,184)"/>
<ellipse cx="430.4" cy="1162.4" rx="2.6" ry="2.8" fill="rgb(242,242,242)"/>
<ellipse cx="417.0" cy="1030.0" rx="2.0" ry="4.0" fill="rgb(128,128,128)"/>
<ellipse cx="418.0" cy="1062.0" rx="2.0" ry="4.0" fill="rgb(128,128,128)"/>
<ellipse cx="437.0" cy="1045.0" rx="2.0" ry="4.0" fill="rgb(128,128,128)"/>
<ellipse cx="436.0" cy="1098.0" rx="2.0" ry="4.0" fill="rgb(128,128,128)"/>
<ellipse cx="418.0" cy="1125.0" rx="2.0" ry="4.0" fill="rgb(128,128,128)"/>
<ellipse cx="437.0" cy="1150.0" rx="2.0" ry="4.0" fill="rgb(128,128,128)"/>
<rect x="525.6" y="960" width="5.8" height="250" fill="rgb(79,79,79)"/>
</g>
</svg></body></html>
